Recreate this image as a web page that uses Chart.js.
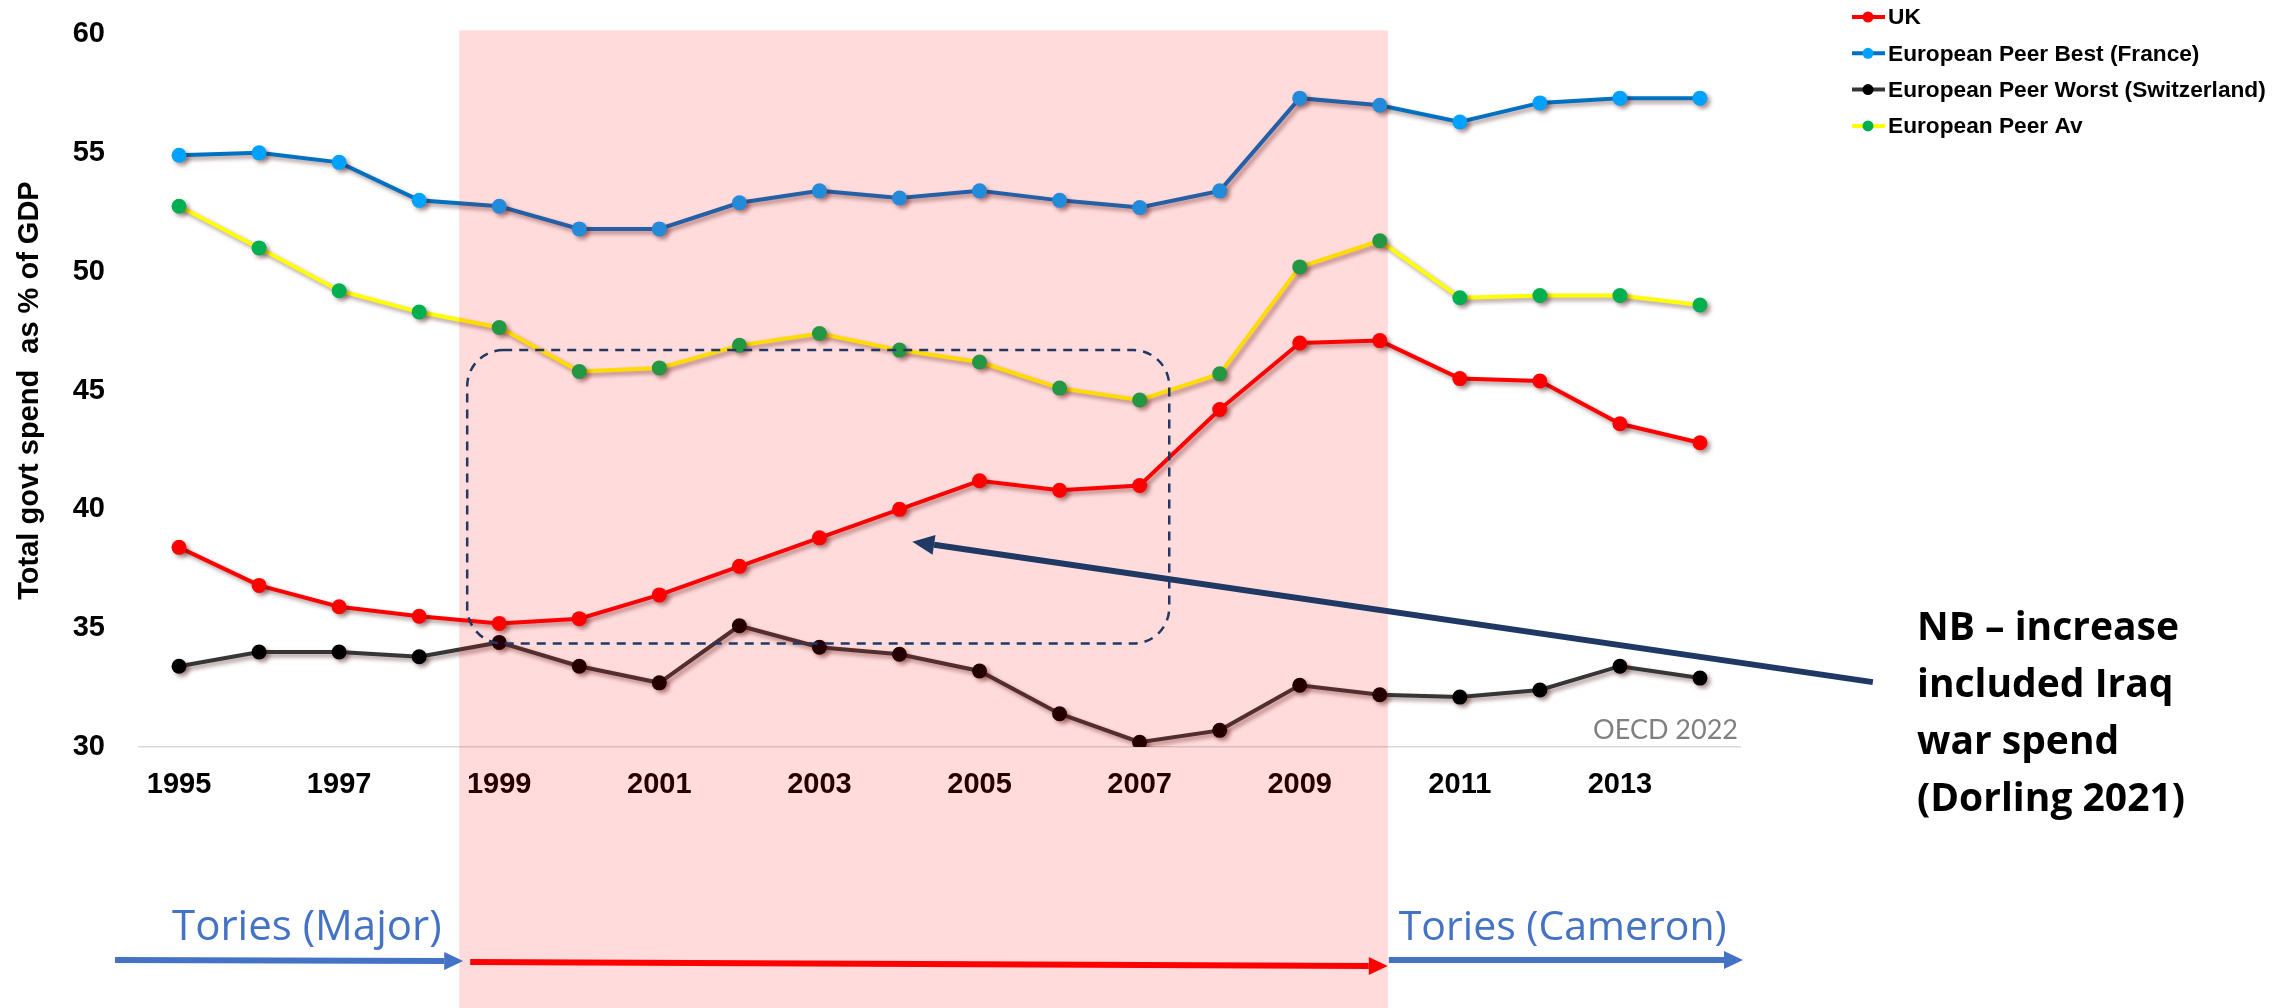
<!DOCTYPE html>
<html>
<head>
<meta charset="utf-8">
<title>Total govt spend as % of GDP</title>
<script src="https://cdn.jsdelivr.net/npm/chart.js@4.4.1/dist/chart.umd.min.js"></script>
<style>
  html, body { margin: 0; padding: 0; background: #fff; }
  canvas { display: block; }
</style>
</head>
<body>
<canvas id="spend-chart" width="2292" height="1008"></canvas>
<script>
// Years along the x axis (only every other one gets a label)
const years = ["1995", "1996", "1997", "1998", "1999", "2000", "2001", "2002", "2003", "2004",
               "2005", "2006", "2007", "2008", "2009", "2010", "2011", "2012", "2013", "2014"];

// Total government spend, % of GDP (OECD 2022)
const ukSpend          = [38.4, 36.8, 35.9, 35.5, 35.2, 35.4, 36.4, 37.6, 38.8, 40.0,
                          41.2, 40.8, 41.0, 44.2, 47.0, 47.1, 45.5, 45.4, 43.6, 42.8];
const franceSpend      = [54.9, 55.0, 54.6, 53.0, 52.75, 51.8, 51.8, 52.9, 53.4, 53.1,
                          53.4, 53.0, 52.7, 53.4, 57.3, 57.0, 56.3, 57.1, 57.3, 57.3];
const switzerlandSpend = [33.4, 34.0, 34.0, 33.8, 34.4, 33.4, 32.7, 35.1, 34.2, 33.9,
                          33.2, 31.4, 30.2, 30.7, 32.6, 32.2, 32.1, 32.4, 33.4, 32.9];
const peerAverage      = [52.75, 51.0, 49.2, 48.3, 47.65, 45.8, 45.95, 46.9, 47.4, 46.7,
                          46.2, 45.1, 44.6, 45.7, 50.2, 51.3, 48.9, 49.0, 49.0, 48.6];

const seriesNames = ["UK", "European Peer Best (France)", "European Peer Worst (Switzerland)", "European Peer Av"];
const yTicks = [30, 35, 40, 45, 50, 55, 60];

const noteLines = ["NB \u2013 increase", "included Iraq", "war spend", "(Dorling 2021)"];

// Labour years, shaded across the whole plot
const labourStart = 1998.5;
const labourEnd = 2010.1;
const firstYear = Number(years[0]);

const SANS = "'Liberation Sans', Arial, Helvetica, sans-serif";
const NAVY = "#203864";
const TORY_BLUE = "#4472C4";

// soft drop shadow under every line and marker
const dropShadow = {
  id: "dropShadow",
  beforeDatasetDraw(chart) {
    const ctx = chart.ctx;
    ctx.save();
    ctx.shadowColor = "rgba(70, 20, 20, 0.45)";
    ctx.shadowBlur = 4;
    ctx.shadowOffsetX = 3;
    ctx.shadowOffsetY = 3;
  },
  afterDatasetDraw(chart) {
    chart.ctx.restore();
  },
};

// translucent red wash over the Labour period
const labourBand = {
  id: "labourBand",
  afterDatasetsDraw(chart) {
    const { ctx, scales: { x, y } } = chart;
    const left = x.getPixelForValue(labourStart - firstYear);
    const right = x.getPixelForValue(labourEnd - firstYear);
    const top = y.getPixelForValue(60.15);
    ctx.save();
    ctx.fillStyle = "rgba(255, 0, 0, 0.14)";
    ctx.fillRect(left, top, right - left, chart.height - top);
    ctx.restore();
  },
};

function drawArrow(ctx, x1, y1, x2, y2, color, width, headLen, headWidth) {
  const a = Math.atan2(y2 - y1, x2 - x1);
  const bx = x2 - headLen * Math.cos(a);
  const by = y2 - headLen * Math.sin(a);
  const hx = (headWidth / 2) * Math.sin(a);
  const hy = (headWidth / 2) * Math.cos(a);
  ctx.save();
  ctx.strokeStyle = color;
  ctx.fillStyle = color;
  ctx.lineWidth = width;
  ctx.beginPath();
  ctx.moveTo(x1, y1);
  ctx.lineTo(bx, by);
  ctx.stroke();
  ctx.beginPath();
  ctx.moveTo(x2, y2);
  ctx.lineTo(bx + hx, by - hy);
  ctx.lineTo(bx - hx, by + hy);
  ctx.closePath();
  ctx.fill();
  ctx.restore();
}

// dashed box, call-out arrow, notes, government timeline and legend
const annotations = {
  id: "annotations",
  afterDraw(chart) {
    const { ctx, chartArea, scales: { x, y } } = chart;
    const px = (yr) => x.getPixelForValue(yr - firstYear);

    // dashed box round 1999-2007
    const bx1 = px(1998.6), bx2 = px(2007.37);
    const by1 = y.getPixelForValue(46.7), by2 = y.getPixelForValue(34.35);
    ctx.save();
    ctx.strokeStyle = NAVY;
    ctx.lineWidth = 2.5;
    ctx.setLineDash([9, 7]);
    ctx.beginPath();
    ctx.roundRect(bx1, by1, bx2 - bx1, by2 - by1, 36);
    ctx.stroke();
    ctx.restore();

    // arrow from the note back into the box
    drawArrow(ctx, px(2016.16), y.getPixelForValue(32.73), px(2004.16), y.getPixelForValue(38.64),
              NAVY, 6, 22, 20);

    // note text
    ctx.save();
    ctx.fillStyle = "#000";
    ctx.font = "bold 39px 'Open Sans', sans-serif";
    ctx.textBaseline = "alphabetic";
    noteLines.forEach((line, i) => ctx.fillText(line, 1917, 640 + i * 57));

    // source
    ctx.fillStyle = "#808080";
    ctx.font = "27px Lato, sans-serif";
    ctx.textAlign = "right";
    ctx.fillText("OECD 2022", chartArea.right - 2, 739);
    ctx.restore();

    // who was in government
    const bandL = px(labourStart), bandR = px(labourEnd);
    drawArrow(ctx, 115, 960, bandL + 4, 961, TORY_BLUE, 6, 19, 18);
    drawArrow(ctx, bandL + 11, 962, bandR, 966, "#FF0000", 6, 19, 18);
    drawArrow(ctx, bandR + 1, 960, chartArea.right + 3, 960, TORY_BLUE, 6, 19, 18);

    ctx.save();
    ctx.fillStyle = TORY_BLUE;
    ctx.font = "42px 'Open Sans', sans-serif";
    ctx.fillText("Tories (Major)", 172, 940);
    ctx.font = "41px 'Open Sans', sans-serif";
    ctx.fillText("Tories (Cameron)", bandR + 11, 940);
    ctx.restore();

    // legend
    ctx.save();
    ctx.font = "bold 22.7px " + SANS;
    ctx.textBaseline = "middle";
    chart.data.datasets.forEach((ds, i) => {
      const ry = 17 + i * 36.3;
      ctx.strokeStyle = ds.borderColor;
      ctx.lineWidth = 4;
      ctx.beginPath();
      ctx.moveTo(1852, ry);
      ctx.lineTo(1885, ry);
      ctx.stroke();
      ctx.fillStyle = ds.pointBackgroundColor;
      ctx.beginPath();
      ctx.arc(1868, ry, 5.5, 0, Math.PI * 2);
      ctx.fill();
      ctx.fillStyle = "#000";
      ctx.fillText(ds.label, 1888, ry + 1);
    });
    ctx.restore();
  },
};

function series(i, data, lineColor, pointColor) {
  return {
    label: seriesNames[i],
    data: data,
    borderColor: lineColor,
    backgroundColor: pointColor,
    pointBackgroundColor: pointColor,
    pointBorderColor: pointColor,
    pointBorderWidth: 0,
    pointRadius: 7.5,
    borderWidth: 4,
    tension: 0,
    fill: false,
  };
}

const ctx = document.getElementById("spend-chart").getContext("2d");

new Chart(ctx, {
  type: "line",
  data: {
    labels: years,
    datasets: [
      series(0, ukSpend, "#FF0000", "#FF0000"),
      series(1, franceSpend, "#0070C0", "#00A2FF"),
      series(2, switzerlandSpend, "#363636", "#000000"),
      series(3, peerAverage, "#FFFF00", "#00B050"),
    ],
  },
  options: {
    responsive: false,
    devicePixelRatio: 1,
    animation: false,
    layout: {
      padding: { top: 34, right: 552, bottom: 0, left: 0 },
    },
    plugins: {
      legend: { display: false },
      tooltip: { enabled: false },
    },
    scales: {
      x: {
        type: "category",
        offset: true,
        grid: { display: false },
        border: { display: true, color: "#d9d9d9", width: 1.5 },
        ticks: {
          autoSkip: false,
          maxRotation: 0,
          padding: 13,
          color: "#000",
          font: { family: SANS, size: 29, weight: "bold" },
          callback: (value, index) => (index % 2 === 0 ? years[index] : ""),
        },
        afterFit: (scale) => { scale.height = 261; },
      },
      y: {
        min: yTicks[0],
        max: yTicks[yTicks.length - 1],
        grid: { display: false },
        border: { display: false },
        afterBuildTicks: (scale) => { scale.ticks = yTicks.map((v) => ({ value: v })); },
        ticks: {
          padding: 26,
          color: "#000",
          font: { family: SANS, size: 29, weight: "bold" },
        },
        title: {
          display: true,
          text: "Total govt spend  as % of GDP",
          color: "#000",
          padding: { top: 13, bottom: 0 },
          font: { family: SANS, size: 29, weight: "bold" },
        },
        afterFit: (scale) => {
          scale.width = 139;
          scale.paddingTop = 0;
          scale.paddingBottom = 0;
        },
      },
    },
  },
  plugins: [dropShadow, labourBand, annotations],
});
</script>
</body>
</html>
